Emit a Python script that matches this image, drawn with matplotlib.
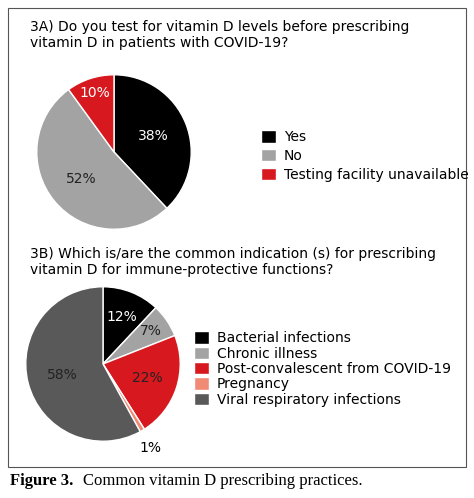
import numpy as np
import matplotlib.pyplot as plt
from matplotlib.patches import Rectangle

labels1 = ["Yes", "No", "Testing facility unavailable"]
vals1 = [38, 52, 10]
cols1 = ["#000000", "#a3a3a3", "#d7191f"]
labels2 = ["Bacterial infections", "Chronic illness", "Post-convalescent from COVID-19", "Pregnancy", "Viral respiratory infections"]
vals2 = [12, 7, 22, 1, 58]
cols2 = ["#000000", "#a3a3a3", "#d7191f", "#f08a74", "#595959"]

W, H = 474, 498
fig = plt.figure(figsize=(W/100, H/100), dpi=100)
fig.patches.append(Rectangle((8/W, 1-467/H), 458/W, 459/H, transform=fig.transFigure, fill=False, ec="#555555", lw=0.8))

def fx(x): return x/W
def fy(y): return 1-y/H

fig.text(fx(30), fy(35), "3A) Do you test for vitamin D levels before prescribing\nvitamin D in patients with COVID-19?", fontsize=10, va="center", linespacing=1.15)
fig.text(fx(30), fy(262), "3B) Which is/are the common indication (s) for prescribing\nvitamin D for immune-protective functions?", fontsize=10, va="center", linespacing=1.15)

r = 78
ax1 = fig.add_axes([fx(114-r), fy(152+r), 2*r/W, 2*r/H])
w1 = ax1.pie(vals1, colors=cols1, startangle=90, counterclock=False,
             wedgeprops=dict(edgecolor="white", linewidth=1))[0]
for w, v, d in zip(w1, vals1, [0.55, 0.55, 0.8]):
    a = np.deg2rad((w.theta1 + w.theta2)/2)
    ax1.text(d*np.cos(a), d*np.sin(a), f"{v}%", ha="center", va="center", fontsize=10,
             color="white" if v != 52 else "#222222")
ax1.set_xlim(-1.01, 1.01); ax1.set_ylim(-1.01, 1.01)
fig.legend(w1, labels1, loc="center left", bbox_to_anchor=(fx(248), fy(156)), frameon=False,
           fontsize=10, handlelength=1.1, handleheight=1.0, labelspacing=0.35, handletextpad=0.6)

ax2 = fig.add_axes([fx(103-r), fy(364+r), 2*r/W, 2*r/H])
w2 = ax2.pie(vals2, colors=cols2, startangle=90, counterclock=False,
             wedgeprops=dict(edgecolor="white", linewidth=1))[0]
pos = [(0.65, "white"), (0.75, "#222222"), (0.6, "#222222"), (None, None), (0.55, "#222222")]
for w, v, (d, c) in zip(w2, vals2, pos):
    a = np.deg2rad((w.theta1 + w.theta2)/2)
    if d is None:
        ax2.text(1.2*np.cos(a), 1.2*np.sin(a) - 0.05, f"{v}%", ha="center", va="center", fontsize=10)
    else:
        ax2.text(d*np.cos(a), d*np.sin(a), f"{v}%", ha="center", va="center", fontsize=10, color=c)
ax2.set_xlim(-1.01, 1.01); ax2.set_ylim(-1.01, 1.01)
fig.legend(w2, labels2, loc="center left", bbox_to_anchor=(fx(181), fy(369)), frameon=False,
           fontsize=10, handlelength=1.1, handleheight=1.0, labelspacing=0.1, handletextpad=0.6)

fig.text(fx(10), fy(481), "Figure 3.", fontsize=12, va="center", family="Liberation Serif", weight="bold")
fig.text(fx(83), fy(481), "Common vitamin D prescribing practices.", fontsize=12, va="center", family="Liberation Serif")
fig.savefig("out.png", dpi=100)
